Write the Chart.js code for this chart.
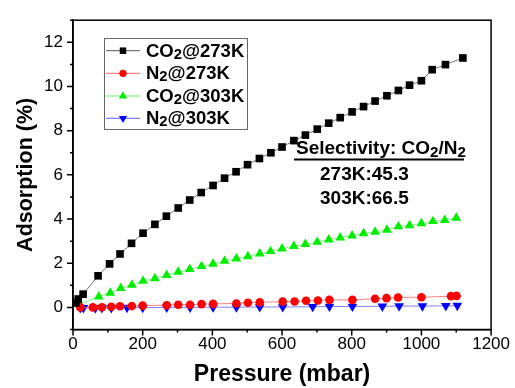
<!DOCTYPE html>
<html>
<head>
<meta charset="utf-8">
<script src="https://cdn.jsdelivr.net/npm/chart.js@4.4.0/dist/chart.umd.min.js"></script>
<style>
  html, body { margin: 0; padding: 0; background: #fff; }
</style>
</head>
<body>
<canvas id="chart" width="515" height="388"></canvas>
<script>
// CO2 at 273 K
const co2_273_p = [8, 15, 29, 72, 105, 135, 168, 201, 235, 268, 302, 335, 368, 402, 435, 468, 501, 535, 568, 600, 634, 667, 701, 734, 767, 801, 834, 867, 901, 934, 966, 1000, 1031, 1069, 1119];
const co2_273_v = [0.2, 0.38, 0.6, 1.43, 1.97, 2.42, 2.9, 3.36, 3.76, 4.13, 4.5, 4.86, 5.2, 5.52, 5.85, 6.14, 6.46, 6.74, 7.0, 7.26, 7.55, 7.8, 8.07, 8.34, 8.59, 8.85, 9.09, 9.34, 9.58, 9.82, 10.06, 10.26, 10.76, 10.99, 11.29];

// N2 at 273 K
const n2_273_p = [21, 57, 83, 110, 135, 169, 200, 269, 302, 336, 369, 402, 469, 502, 536, 602, 636, 669, 703, 736, 802, 867, 900, 933, 1000, 1085, 1101];
const n2_273_v = [0.0, 0.0, 0.01, 0.03, 0.05, 0.06, 0.08, 0.1, 0.12, 0.12, 0.15, 0.16, 0.18, 0.21, 0.23, 0.26, 0.27, 0.3, 0.31, 0.34, 0.34, 0.39, 0.42, 0.45, 0.46, 0.51, 0.52];

// CO2 at 303 K
const co2_303_p = [20, 74, 107, 137, 169, 201, 235, 269, 302, 335, 369, 402, 435, 469, 502, 536, 567, 600, 634, 667, 701, 734, 767, 801, 834, 867, 901, 934, 966, 1000, 1033, 1067, 1100];
const co2_303_v = [0.15, 0.49, 0.66, 0.87, 1.02, 1.2, 1.31, 1.46, 1.61, 1.73, 1.86, 1.97, 2.1, 2.21, 2.31, 2.43, 2.54, 2.66, 2.77, 2.86, 2.96, 3.07, 3.16, 3.25, 3.35, 3.42, 3.51, 3.66, 3.71, 3.8, 3.9, 3.95, 4.05];

// N2 at 303 K
const n2_303_p = [21, 30, 64, 83, 110, 155, 200, 269, 336, 402, 469, 536, 602, 688, 736, 802, 888, 936, 1003, 1070, 1103];
const n2_303_v = [-0.02, -0.02, -0.03, -0.02, -0.02, -0.01, -0.01, 0.0, 0.0, 0.01, 0.01, 0.02, 0.02, 0.03, 0.04, 0.04, 0.05, 0.06, 0.06, 0.07, 0.08];

const seriesLabels = ['CO2@273K', 'N2@273K', 'CO2@303K', 'N2@303K'];
const selectivityTitle = 'Selectivity: CO2/N2';
const selectivityLines = ['273K:45.3', '303K:66.5'];

const FONT = "'Liberation Sans', Arial, sans-serif";

const pts = (p, v) => p.map((x, i) => ({ x, y: v[i] }));

// draws text, shrinking and lowering digits that follow a capital letter (chemical formulas)
function drawFormula(ctx, text, x, y, size) {
  const parts = text.split(/(?<=[A-Z])(\d)/);
  let cx = x;
  parts.forEach((part, i) => {
    if (!part) return;
    const sub = i % 2 === 1;
    ctx.font = `bold ${sub ? size * 0.8 : size}px ${FONT}`;
    ctx.fillText(part, cx, sub ? y + size * 0.16 : y);
    cx += ctx.measureText(part).width;
  });
  return cx;
}

const frame = {
  id: 'frame',
  afterDraw(chart) {
    const { ctx, chartArea: a, scales } = chart;
    ctx.save();
    ctx.strokeStyle = '#000';
    ctx.lineWidth = 1.5;
    ctx.strokeRect(a.left, a.top, a.right - a.left, a.bottom - a.top);
    ctx.beginPath();
    scales.y.ticks.forEach(t => {
      const py = scales.y.getPixelForValue(t.value);
      const len = t.value % 2 === 0 ? 6 : 3;
      ctx.moveTo(a.left - len, py);
      ctx.lineTo(a.left, py);
    });
    scales.x.ticks.forEach(t => {
      const px = scales.x.getPixelForValue(t.value);
      const len = t.value % 200 === 0 ? 6 : 3;
      ctx.moveTo(px, a.bottom);
      ctx.lineTo(px, a.bottom + len);
    });
    ctx.stroke();
    ctx.restore();
  }
};

const legendBox = {
  id: 'legendBox',
  afterDraw(chart) {
    const { ctx } = chart;
    ctx.save();
    ctx.strokeStyle = '#666';
    ctx.lineWidth = 1;
    ctx.strokeRect(104.5, 38.5, 143, 91);
    const rows = [50.7, 73.3, 96, 118.3];
    chart.data.datasets.forEach((ds, i) => {
      const y = rows[i];
      ctx.strokeStyle = ds.borderColor;
      ctx.lineWidth = 1;
      ctx.beginPath();
      ctx.moveTo(106, y);
      ctx.lineTo(140, y);
      ctx.stroke();
      ctx.fillStyle = ds.pointBackgroundColor;
      ctx.strokeStyle = ds.pointBackgroundColor;
      Chart.helpers.drawPoint(ctx, {
        pointStyle: ds.pointStyle,
        rotation: ds.pointRotation || 0,
        radius: ds.pointRadius * 0.85,
        borderWidth: 0
      }, 123, y);
      ctx.fillStyle = '#000';
      ctx.textBaseline = 'middle';
      ctx.textAlign = 'left';
      drawFormula(ctx, ds.label, 146, y + 1, 18.5);
    });
    ctx.restore();
  }
};

const selectivity = {
  id: 'selectivity',
  afterDraw(chart) {
    const { ctx } = chart;
    ctx.save();
    ctx.fillStyle = '#000';
    ctx.textBaseline = 'alphabetic';
    ctx.textAlign = 'left';
    drawFormula(ctx, selectivityTitle, 296, 154, 19);
    ctx.strokeStyle = '#000';
    ctx.lineWidth = 2;
    ctx.beginPath();
    ctx.moveTo(294, 159.5);
    ctx.lineTo(464, 159.5);
    ctx.stroke();
    ctx.font = `bold 19px ${FONT}`;
    ctx.fillText(selectivityLines[0], 320, 179.5);
    ctx.fillText(selectivityLines[1], 320, 204);
    ctx.restore();
  }
};

new Chart(document.getElementById('chart'), {
  type: 'scatter',
  data: {
    datasets: [
      {
        label: seriesLabels[0], data: pts(co2_273_p, co2_273_v), showLine: true,
        borderColor: '#555', borderWidth: 0.8,
        pointStyle: 'rect', pointRadius: 5.4, pointBackgroundColor: '#000', pointBorderWidth: 0
      },
      {
        label: seriesLabels[1], data: pts(n2_273_p, n2_273_v), showLine: true,
        borderColor: '#ff6060', borderWidth: 0.8,
        pointStyle: 'circle', pointRadius: 4.3, pointBackgroundColor: '#ff0000', pointBorderWidth: 0
      },
      {
        label: seriesLabels[2], data: pts(co2_303_p, co2_303_v), showLine: true,
        borderColor: '#60ff60', borderWidth: 0.8,
        pointStyle: 'triangle', pointRadius: 5.6, pointBackgroundColor: '#00ee00', pointBorderWidth: 0
      },
      {
        label: seriesLabels[3], data: pts(n2_303_p, n2_303_v), showLine: true,
        borderColor: '#6060ff', borderWidth: 0.8,
        pointStyle: 'triangle', pointRotation: 180, pointRadius: 5.6, pointBackgroundColor: '#0000ff', pointBorderWidth: 0
      }
    ]
  },
  options: {
    responsive: false,
    animation: false,
    devicePixelRatio: 1,
    clip: false,
    layout: { padding: { top: 16, right: 22.5, left: 0, bottom: 0 } },
    plugins: { legend: { display: false }, tooltip: { enabled: false } },
    scales: {
      x: {
        type: 'linear', min: 0, max: 1200,
        afterFit: s => { s.height = 58.5; },
        grid: { drawOnChartArea: false, drawTicks: false },
        border: { color: '#000', width: 1.5 },
        ticks: {
          stepSize: 100, autoSkip: false, maxRotation: 0, padding: 5, color: '#000',
          font: { family: FONT, size: 17 },
          callback: v => (v % 200 === 0 ? v : '')
        },
        title: {
          display: true, text: 'Pressure (mbar)', color: '#000',
          font: { family: FONT, size: 23, weight: 'bold' }, padding: { top: 0, bottom: 0 }
        }
      },
      y: {
        type: 'linear', min: -1, max: 13,
        afterFit: s => { s.width = 73; },
        grid: { drawOnChartArea: false, drawTicks: false },
        border: { color: '#000', width: 1.5 },
        ticks: {
          stepSize: 1, autoSkip: false, padding: 10, color: '#000',
          font: { family: FONT, size: 17 },
          callback: v => (v % 2 === 0 && v >= 0 && v <= 12 ? v : '')
        },
        title: {
          display: true, text: 'Adsorption (%)', color: '#000',
          font: { family: FONT, size: 21.5, weight: 'bold' }, padding: { top: 13, bottom: 0 }
        }
      }
    }
  },
  plugins: [frame, legendBox, selectivity]
});
</script>
</body>
</html>
